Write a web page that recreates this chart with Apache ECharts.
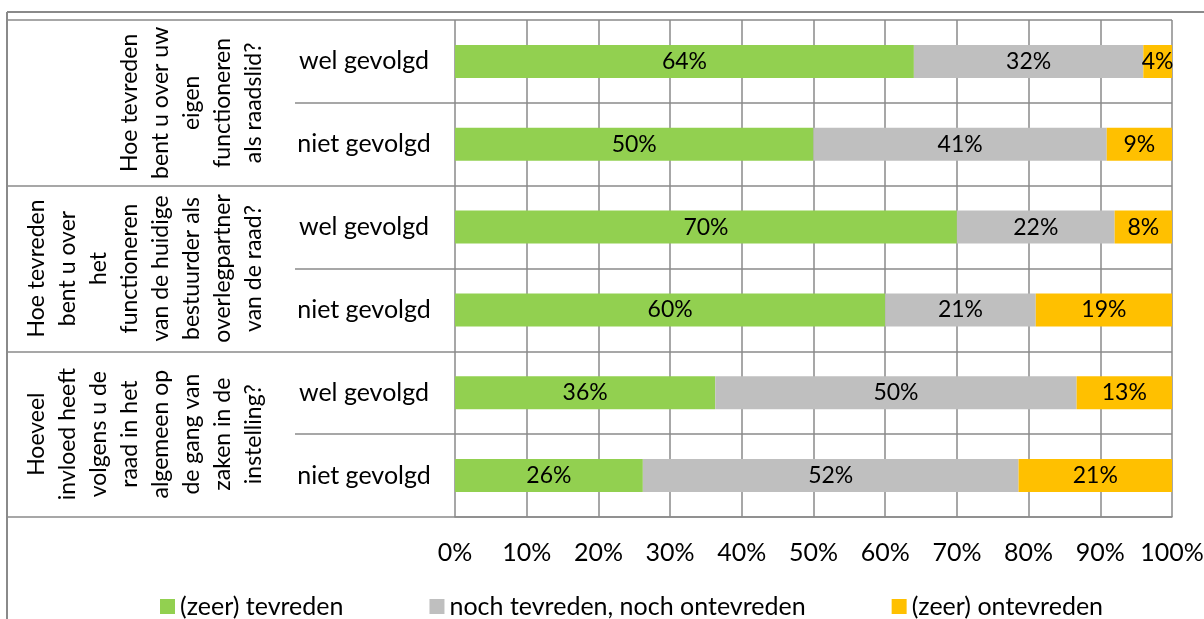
<!DOCTYPE html>
<html>
<head>
<meta charset="utf-8">
<script src="https://cdn.jsdelivr.net/npm/echarts@6/dist/echarts.min.js"></script>
<style>
  html, body { margin: 0; padding: 0; background: #fff; }
  #chart { width: 1204px; height: 619px; }
</style>
</head>
<body>
<div id="chart"></div>
<script>
// Sub-rows: respondent group per question
const rows = ['wel gevolgd', 'niet gevolgd', 'wel gevolgd', 'niet gevolgd', 'wel gevolgd', 'niet gevolgd'];

// Question groups (two rows each)
const questions = [
  'Hoe tevreden\nbent u over uw\neigen\nfunctioneren\nals raadslid?',
  'Hoe tevreden\nbent u over\nhet\nfunctioneren\nvan de huidige\nbestuurder als\noverlegpartner\nvan de raad?',
  'Hoeveel\ninvloed heeft\nvolgens u de\nraad in het\nalgemeen op\nde gang van\nzaken in de\ninstelling?'
];

// Shares in percent
const tevreden = [64.0, 50.0, 70.0, 60.0, 36.3, 26.2];
const neutraal = [32.0, 40.9, 22.0, 21.0, 50.4, 52.4];
const ontevreden = [4.0, 9.1, 8.0, 19.0, 13.3, 21.4];

const seriesNames = ['(zeer) tevreden', 'noch tevreden, noch ontevreden', '(zeer) ontevreden'];
const xTicks = [0, 10, 20, 30, 40, 50, 60, 70, 80, 90, 100];

const FONT = 'Lato, "Open Sans", sans-serif';
const LINE = '#8a8a8a';
const colors = ['#92D050', '#BFBFBF', '#FFC000'];

const chart = echarts.init(document.getElementById('chart'), null, { renderer: 'canvas' });

function barSeries(name, data, color) {
  return {
    name: name,
    type: 'bar',
    stack: 'total',
    yAxisIndex: 0,
    barWidth: 33,
    data: data,
    itemStyle: { color: color },
    label: {
      show: true,
      position: 'inside',
      color: '#000',
      fontFamily: FONT,
      fontSize: 23,
      formatter: p => Math.round(p.value) + '%'
    },
    emphasis: { disabled: true }
  };
}

chart.setOption({
  animation: false,
  textStyle: { fontFamily: FONT },
  grid: {
    left: 455, right: 32, top: 20, bottom: 102,
    containLabel: false,
    outerBoundsMode: 'none'
  },
  xAxis: {
    type: 'value',
    min: xTicks[0],
    max: xTicks[xTicks.length - 1],
    interval: 10,
    axisLine: { show: true, lineStyle: { color: LINE, width: 1.5 } },
    axisTick: { show: false },
    splitLine: { show: true, lineStyle: { color: LINE, width: 1.5 } },
    axisLabel: {
      color: '#000',
      fontFamily: FONT,
      fontSize: 25,
      margin: 23,
      formatter: '{value}%'
    }
  },
  yAxis: [
    {
      type: 'category',
      data: rows,
      inverse: true,
      position: 'left',
      axisLine: { show: false },
      axisTick: { show: true, length: 160, lineStyle: { color: LINE, width: 1.5 } },
      splitLine: { show: true, lineStyle: { color: LINE, width: 1.5 } },
      axisLabel: {
        color: '#000',
        fontFamily: FONT,
        fontSize: 25,
        align: 'center',
        margin: 91
      }
    },
    {
      type: 'category',
      data: questions,
      inverse: true,
      position: 'left',
      axisLine: { show: false },
      axisTick: { show: true, length: 448, lineStyle: { color: LINE, width: 1.5 } },
      splitLine: { show: false },
      axisLabel: {
        interval: 0,
        rotate: 90,
        color: '#000',
        fontFamily: FONT,
        fontSize: 23,
        lineHeight: 31,
        align: 'center',
        verticalAlign: 'bottom',
        margin: 186
      }
    }
  ],
  legend: {
    left: 155,
    top: 589,
    icon: 'rect',
    itemWidth: 15,
    itemHeight: 15,
    itemGap: 86,
    selectedMode: false,
    textStyle: { color: '#000', fontFamily: FONT, fontSize: 25 },
    data: seriesNames
  },
  graphic: [
    { type: 'line', shape: { x1: 7, y1: 12, x2: 1204, y2: 12 }, style: { stroke: LINE, lineWidth: 2 }, silent: true },
    { type: 'line', shape: { x1: 7, y1: 12, x2: 7, y2: 619 }, style: { stroke: LINE, lineWidth: 2 }, silent: true }
  ],
  series: [
    barSeries(seriesNames[0], tevreden, colors[0]),
    barSeries(seriesNames[1], neutraal, colors[1]),
    barSeries(seriesNames[2], ontevreden, colors[2])
  ]
});
</script>
</body>
</html>
